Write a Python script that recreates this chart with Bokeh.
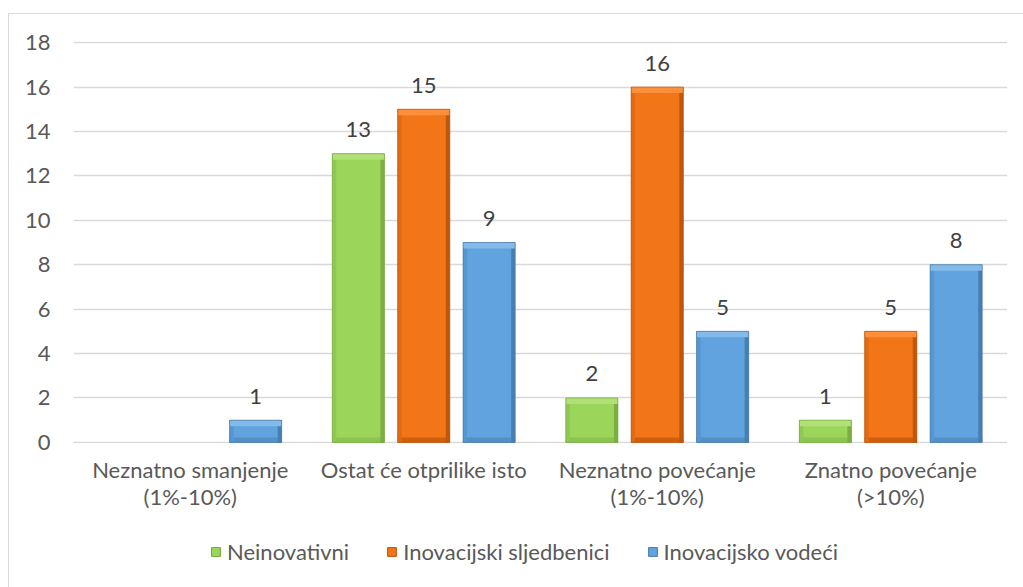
from bokeh.plotting import figure
from bokeh.models import Range1d, FixedTicker, Legend, LegendItem, ColumnDataSource
from bokeh.layouts import column
from bokeh.embed import file_html
from bokeh.resources import INLINE
from bokeh.core.properties import value

categories = ["Neznatno smanjenje\n(1%-10%)", "Ostat će otprilike isto",
              "Neznatno povećanje\n(1%-10%)", "Znatno povećanje\n(>10%)"]
series_names = ["Neinovativni", "Inovacijski sljedbenici", "Inovacijsko vodeći"]
neinovativni = [0, 13, 2, 1]
sljedbenici = [0, 15, 16, 5]
vodeci = [1, 9, 5, 8]
y_ticks = [0, 2, 4, 6, 8, 10, 12, 14, 16, 18]

FONT = "Lato"
W, H = 1014, 520
FRAME_W, FRAME_H = 934, 402
LEFT, TOP = 64, 27
Y0, Y1 = -0.05, 18.05

p = figure(width=W, height=H, output_backend="svg", toolbar_location=None,
           x_range=Range1d(0, 4), y_range=Range1d(Y0, Y1),
           min_border_left=LEFT, min_border_right=W - LEFT - FRAME_W,
           min_border_top=TOP, min_border_bottom=H - TOP - FRAME_H)
p.outline_line_color = None
p.background_fill_color = "white"
p.border_fill_color = "white"

px_y = (Y1 - Y0) / FRAME_H
px_x = 4.0 / FRAME_W

bw = 0.223
offsets = [-0.28, 0.0, 0.28]
series = [neinovativni, sljedbenici, vodeci]
colors = [
    dict(base="#9BD65A", top="#B0E076", side="#8FC853", right="#7BAF43", bottom="#8CC450", line="#74A43E"),
    dict(base="#F27618", top="#FD8F3A", side="#E26B12", right="#BE580D", bottom="#CF5E0F", line="#B5530C"),
    dict(base="#60A3DF", top="#84BAEA", side="#5697D1", right="#487FB2", bottom="#5490C7", line="#4878A2"),
]

for vals, off, c in zip(series, offsets, colors):
    xs = [i + 0.5 + off for i, v in enumerate(vals) if v > 0]
    tops = [v for v in vals if v > 0]
    src = ColumnDataSource(dict(x=xs, top=tops,
                                tbot=[t - 6 * px_y for t in tops],
                                btop=[5 * px_y] * len(tops),
                                lx=[x - bw / 2 + 2 * px_x for x in xs],
                                rx=[x + bw / 2 - 2 * px_x for x in xs],
                                label=[str(v) for v in tops]))
    p.vbar(x="x", top="top", bottom=0, width=bw, source=src,
           fill_color=c["base"], line_color=None)
    p.vbar(x="x", top="btop", bottom=0, width=bw, source=src,
           fill_color=c["bottom"], line_color=None)
    p.vbar(x="lx", top="top", bottom=0, width=4 * px_x, source=src,
           fill_color=c["side"], line_color=None)
    p.vbar(x="rx", top="top", bottom=0, width=4 * px_x, source=src,
           fill_color=c["right"], line_color=None)
    p.vbar(x="x", top="top", bottom="tbot", width=bw, source=src,
           fill_color=c["top"], line_color=None)
    p.vbar(x="x", top="top", bottom=0, width=bw, source=src,
           fill_color=None, line_color=c["line"], line_width=1, line_alpha=0.7)
    p.text(x="x", y="top", text="label", source=src, text_align="center",
           text_baseline="alphabetic", y_offset=-24, text_font=value(FONT),
           text_font_size="22px", text_color="#404040")

p.xgrid.grid_line_color = None
p.ygrid.grid_line_color = "#D9D9D9"
p.ygrid.grid_line_width = 1.3
p.ygrid.ticker = FixedTicker(ticks=y_ticks)

p.yaxis.ticker = FixedTicker(ticks=y_ticks)
p.yaxis.axis_line_color = None
p.yaxis.major_tick_line_color = None
p.yaxis.minor_tick_line_color = None
p.yaxis.major_label_standoff = 17
p.yaxis.major_label_text_font = FONT
p.yaxis.major_label_text_font_size = "22px"
p.yaxis.major_label_text_color = "#595959"

p.xaxis.ticker = FixedTicker(ticks=[0.5, 1.5, 2.5, 3.5])
p.xaxis.major_label_overrides = {i + 0.5: c for i, c in enumerate(categories)}
p.xaxis.axis_line_color = None
p.xaxis.major_tick_line_color = None
p.xaxis.minor_tick_line_color = None
p.xaxis.major_label_standoff = 6
p.xaxis.major_label_text_font = FONT
p.xaxis.major_label_text_font_size = "22px"
p.xaxis.major_label_text_line_height = 1.0
p.xaxis.major_label_text_color = "#595959"

# legend strip (separate figure under the chart)
LH = 53
p2 = figure(width=W, height=LH, output_backend="svg", toolbar_location=None,
            x_range=Range1d(0, 1), y_range=Range1d(0, 1),
            min_border_left=0, min_border_right=0, min_border_top=0, min_border_bottom=0)
p2.outline_line_color = None
p2.axis.visible = False
p2.grid.visible = False
items = []
for name, c in zip(series_names, colors):
    r = p2.vbar(x=[-10], top=[-5], bottom=-6, width=0.1,
                fill_color=c["base"], line_color=c["line"], line_width=1)
    items.append(LegendItem(label=name, renderers=[r]))
legend = Legend(items=items, orientation="horizontal", location=(137, 22))
legend.background_fill_alpha = 0
legend.border_line_color = None
legend.padding = 0
legend.margin = 0
legend.spacing = 37
legend.glyph_width = 11
legend.glyph_height = 11
legend.label_standoff = 6
legend.label_text_font = FONT
legend.label_text_font_size = "22px"
legend.label_text_color = "#595959"
p2.add_layout(legend)

layout = column(p, p2, spacing=0,
                styles={"margin-left": "8px", "margin-top": "13px",
                        "border-left": "1px solid #D9D9D9", "border-top": "1px solid #D9D9D9"})

open("out.html", "w").write(file_html(layout, INLINE))
